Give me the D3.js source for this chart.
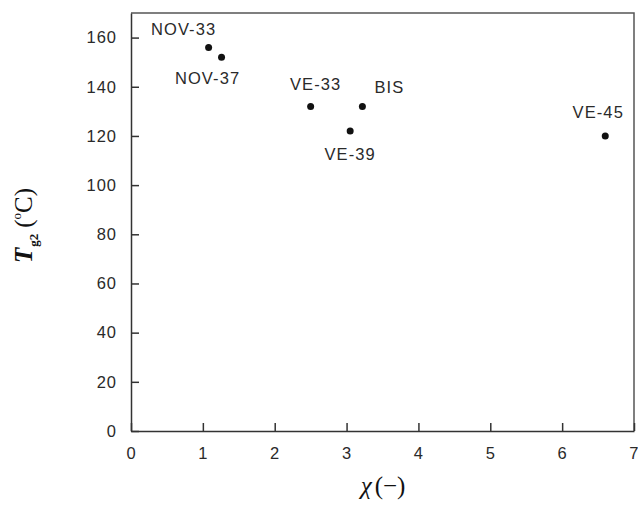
<!DOCTYPE html>
<html lang="en">
<head>
  <meta charset="UTF-8">
  <title>Tg2 vs chi</title>
  <style>
    body { margin: 0; background: #fff; }
    svg { font-family: "Liberation Sans", Arial, sans-serif; }
    .axis path, .axis line { stroke: #333; stroke-width: 1.5px; }
    .axis text { font-size: 16.5px; fill: #2a2a2a; letter-spacing: 1px; }
    .lbl { font-size: 16.5px; fill: #2a2a2a; letter-spacing: 1.1px; }
  </style>
</head>
<body>
  <div id="chart"></div>
  <script src="https://d3js.org/d3.v7.min.js"></script>
  <script>
    // sample names and values
    const names = ['NOV-33', 'NOV-37', 'VE-33', 'BIS', 'VE-39', 'VE-45'];
    const chi = [1.08, 1.26, 2.5, 3.22, 3.05, 6.6];
    const tg2 = [156, 152, 132, 132, 122, 120];

    // label offsets (px) from each dot: [dx, dy]
    const labelOffsets = [[-25, -12], [-14, 27], [5, -16], [27, -13], [0, 29], [-7, -18]];

    const xTicks = [0, 1, 2, 3, 4, 5, 6, 7];
    const yTicks = [0, 20, 40, 60, 80, 100, 120, 140, 160];

    const W = 638, H = 506;
    const margin = { top: 13, right: 4, bottom: 75, left: 131 };
    const width = W - margin.left - margin.right;
    const height = H - margin.top - margin.bottom;

    const svg = d3.select('#chart').append('svg')
      .attr('width', W)
      .attr('height', H);

    const g = svg.append('g')
      .attr('transform', `translate(${margin.left},${margin.top})`);

    const x = d3.scaleLinear().domain([0, 7]).range([0, width]);
    const y = d3.scaleLinear().domain([0, 170]).range([height, 0]);

    // frame (top + right)
    g.append('path')
      .attr('d', `M0,0H${width}V${height}`)
      .attr('fill', 'none')
      .attr('stroke', '#555')
      .attr('stroke-width', 1.5);

    const xAxis = g.append('g')
      .attr('class', 'axis')
      .attr('transform', `translate(0,${height})`)
      .call(d3.axisBottom(x).tickValues(xTicks).tickFormat(d3.format('d'))
        .tickSizeInner(-8).tickSizeOuter(0).tickPadding(16));

    // keep the last label inside the window
    xAxis.selectAll('.tick:last-of-type text')
      .attr('text-anchor', 'end')
      .style('letter-spacing', '0px')
      .attr('dx', 4);

    g.append('g')
      .attr('class', 'axis')
      .call(d3.axisLeft(y).tickValues(yTicks).tickFormat(d3.format('d'))
        .tickSizeInner(-8).tickSizeOuter(0).tickPadding(14));

    const pts = names.map((n, i) => ({ name: n, x: chi[i], y: tg2[i], off: labelOffsets[i] }));

    g.selectAll('circle.dot')
      .data(pts)
      .enter().append('circle')
      .attr('class', 'dot')
      .attr('cx', d => x(d.x))
      .attr('cy', d => y(d.y))
      .attr('r', 3.5)
      .attr('fill', '#111');

    g.selectAll('text.lbl')
      .data(pts)
      .enter().append('text')
      .attr('class', 'lbl')
      .attr('x', d => x(d.x) + d.off[0])
      .attr('y', d => y(d.y) + d.off[1])
      .attr('text-anchor', 'middle')
      .text(d => d.name);

    // x axis title
    const xt = svg.append('text')
      .attr('x', 383)
      .attr('y', 494)
      .attr('text-anchor', 'middle')
      .style('font-family', '"Liberation Serif", "Times New Roman", serif')
      .style('font-size', '25px')
      .attr('fill', '#111');
    xt.append('tspan').style('font-style', 'italic').text('χ');
    xt.append('tspan').attr('dx', 3).text('(−)');

    // y axis title
    const yt = svg.append('text')
      .attr('transform', 'translate(32,263) rotate(-90)')
      .attr('text-anchor', 'start')
      .style('font-family', '"Liberation Serif", "Times New Roman", serif')
      .attr('fill', '#111');
    yt.append('tspan').style('font-style', 'italic').style('font-weight', 'bold')
      .style('font-size', '25px').text('T');
    yt.append('tspan').attr('dy', 6).attr('dx', 1).style('font-size', '13px')
      .style('font-weight', 'bold').text('g2');
    yt.append('tspan').attr('dy', -6).attr('dx', 6).style('font-size', '25px').text('(');
    yt.append('tspan').attr('dy', -11).style('font-size', '13px').text('o');
    yt.append('tspan').attr('dy', 11).style('font-size', '25px').text('C)');
  </script>
</body>
</html>
